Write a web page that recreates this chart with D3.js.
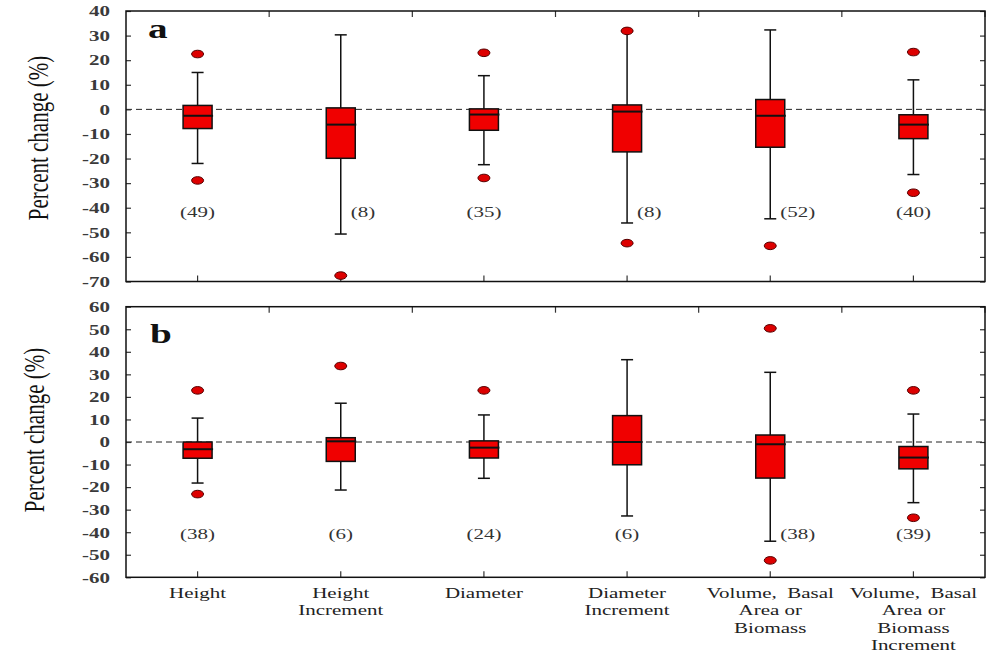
<!DOCTYPE html>
<html>
<head>
<meta charset="utf-8">
<script src="https://cdn.jsdelivr.net/npm/d3@7"></script>
<style>
  html, body { margin: 0; padding: 0; background: #fff; }
  svg { display: block; }
  text { font-family: "Liberation Serif", "Times New Roman", serif; }
</style>
</head>
<body>
<svg id="chart" width="1001" height="656"></svg>
<script>
// Growth response categories (x axis)
const categories = ["Height", "Height Increment", "Diameter", "Diameter Increment",
  "Volume, Basal Area or Biomass", "Volume, Basal Area or Biomass Increment"];
const categoryLines = [["Height"], ["Height", "Increment"], ["Diameter"], ["Diameter", "Increment"],
  ["Volume,  Basal", "Area or", "Biomass"], ["Volume,  Basal", "Area or", "Biomass", "Increment"]];

// Panel a: percent change summaries
const aWhiskerLow  = [-22, -50.7, -22.5, -46.2, -44.5, -26.5];
const aQ1          = [-7.8, -19.9, -8.5, -17.3, -15.4, -11.9];
const aMedian      = [-2.6, -6.2, -2.1, -0.9, -2.6, -6.2];
const aQ3          = [1.6, 0.6, 0.2, 1.8, 4.0, -2.2];
const aWhiskerHigh = [15, 30.3, 13.7, 31.9, 32.3, 12];
const aOutLow      = [-28.9, -67.6, -27.9, -54.4, -55.5, -33.9];
const aOutHigh     = [22.5, null, 23, 31.9, null, 23.3];
const aCounts      = [49, 8, 35, 8, 52, 40];
const aCountBeside = [false, true, false, true, true, false];
const aTicks       = [40, 30, 20, 10, 0, -10, -20, -30, -40, -50, -60, -70];

// Panel b: percent change summaries
const bWhiskerLow  = [-18.2, -21.3, -16.1, -32.8, -44, -26.9];
const bQ1          = [-7.2, -8.6, -7.1, -10.1, -16, -11.9];
const bMedian      = [-3.2, 0.3, -2.5, 0, -1.0, -6.9];
const bQ3          = [0, 1.9, 0.5, 11.7, 3.1, -2.0];
const bWhiskerHigh = [10.6, 17.2, 12, 36.5, 30.9, 12.4];
const bOutLow      = [-23.1, null, null, null, -52.5, -33.6];
const bOutHigh     = [22.9, 33.7, 22.9, null, 50.4, 22.9];
const bCounts      = [38, 6, 24, 6, 38, 39];
const bCountBeside = [false, false, false, false, true, false];
const bTicks       = [60, 50, 40, 30, 20, 10, 0, -10, -20, -30, -40, -50, -60];

const SX = 1.4; // horizontal text stretch used throughout the figure

const svg = d3.select("#chart");
const left = 126, right = 985;

const x = d3.scaleBand().domain(categories).range([left, right]).padding(0);

function build(rows) {
  return categories.map((c, i) => ({
    cat: c, lo: rows.wl[i], q1: rows.q1[i], med: rows.md[i], q3: rows.q3[i], hi: rows.wh[i],
    outLo: rows.ol[i], outHi: rows.oh[i], n: rows.n[i], beside: rows.bs[i]
  }));
}

const panels = [
  { letter: "a", top: 11, bottom: 281.5, domain: [-70, 40], ticks: aTicks, countAt: -41.5,
    titleX: 39, titleY: 138, letterX: 148, letterY: 38,
    rows: build({ wl: aWhiskerLow, q1: aQ1, md: aMedian, q3: aQ3, wh: aWhiskerHigh, ol: aOutLow, oh: aOutHigh, n: aCounts, bs: aCountBeside }) },
  { letter: "b", top: 306.7, bottom: 577.3, domain: [-60, 60], ticks: bTicks, countAt: -40.5,
    titleX: 35, titleY: 430, letterX: 150, letterY: 343,
    rows: build({ wl: bWhiskerLow, q1: bQ1, md: bMedian, q3: bQ3, wh: bWhiskerHigh, ol: bOutLow, oh: bOutHigh, n: bCounts, bs: bCountBeside }) }
];

const boxW = 29, capW = 12;

panels.forEach(p => {
  const y = d3.scaleLinear().domain(p.domain).range([p.bottom, p.top]);
  const g = svg.append("g");

  // zero reference line
  g.append("line")
    .attr("x1", left).attr("x2", right)
    .attr("y1", y(0)).attr("y2", y(0))
    .attr("stroke", "#222").attr("stroke-width", 1)
    .attr("stroke-dasharray", "6,4");

  // axes: inward ticks on all four sides
  const yl = g.append("g").attr("transform", `translate(${left},0)`)
    .call(d3.axisLeft(y).tickValues(p.ticks).tickSizeInner(-5).tickSizeOuter(0).tickPadding(16)
      .tickFormat(d => String(d)));
  yl.selectAll("text")
    .attr("x", -16 / SX)
    .attr("transform", `scale(${SX},1)`)
    .attr("fill", "#3a3a3a").attr("font-size", 15).attr("font-weight", "bold")
    .style("font-family", '"Liberation Serif", serif');

  g.append("g").attr("transform", `translate(${right},0)`)
    .call(d3.axisRight(y).tickValues(p.ticks).tickSizeInner(-5).tickSizeOuter(0).tickFormat(""));
  g.append("g").attr("transform", `translate(0,${p.top})`)
    .call(d3.axisTop(x).tickSizeInner(-6).tickSizeOuter(0).tickFormat(""))
    .selectAll(".tick line").attr("transform", `translate(${x.bandwidth() / 2},0)`);
  g.append("g").attr("transform", `translate(0,${p.bottom})`)
    .call(d3.axisBottom(x).tickSizeInner(-6).tickSizeOuter(0).tickFormat(""));
  g.selectAll(".domain").remove();
  g.selectAll(".tick line").attr("stroke", "#333").attr("stroke-width", 1.2);

  // frame
  g.append("rect")
    .attr("x", left).attr("y", p.top)
    .attr("width", right - left).attr("height", p.bottom - p.top)
    .attr("fill", "none").attr("stroke", "#111").attr("stroke-width", 1.5);

  const cx = d => x(d.cat) + x.bandwidth() / 2;

  const box = g.selectAll(".box").data(p.rows).join("g").attr("class", "box");

  // whiskers
  box.append("line")
    .attr("x1", cx).attr("x2", cx)
    .attr("y1", d => y(d.lo)).attr("y2", d => y(d.hi))
    .attr("stroke", "#111").attr("stroke-width", 1.5);
  box.append("line")
    .attr("x1", d => cx(d) - capW / 2).attr("x2", d => cx(d) + capW / 2)
    .attr("y1", d => y(d.lo)).attr("y2", d => y(d.lo))
    .attr("stroke", "#111").attr("stroke-width", 1.5);
  box.append("line")
    .attr("x1", d => cx(d) - capW / 2).attr("x2", d => cx(d) + capW / 2)
    .attr("y1", d => y(d.hi)).attr("y2", d => y(d.hi))
    .attr("stroke", "#111").attr("stroke-width", 1.5);

  // interquartile box
  box.append("rect")
    .attr("x", d => cx(d) - boxW / 2).attr("width", boxW)
    .attr("y", d => y(d.q3)).attr("height", d => y(d.q1) - y(d.q3))
    .attr("fill", "#f00000").attr("stroke", "#111").attr("stroke-width", 1.5);

  // median
  box.append("line")
    .attr("x1", d => cx(d) - boxW / 2).attr("x2", d => cx(d) + boxW / 2 + 1)
    .attr("y1", d => y(d.med)).attr("y2", d => y(d.med))
    .attr("stroke", "#111").attr("stroke-width", 2);

  // outliers
  const outs = [];
  p.rows.forEach(d => {
    if (d.outLo !== null) outs.push({ cat: d.cat, v: d.outLo });
    if (d.outHi !== null) outs.push({ cat: d.cat, v: d.outHi });
  });
  g.selectAll(".out").data(outs).join("ellipse").attr("class", "out")
    .attr("cx", cx).attr("cy", d => y(d.v))
    .attr("rx", 6).attr("ry", 3.8)
    .attr("fill", "#dd0000").attr("stroke", "#500").attr("stroke-width", 1);

  // sample sizes
  g.selectAll(".count").data(p.rows).join("text").attr("class", "count")
    .attr("transform", d => `translate(${d.beside ? cx(d) + 10 : cx(d)},${y(p.countAt)}) scale(${SX},1)`)
    .attr("dy", "0.35em")
    .attr("text-anchor", d => d.beside ? "start" : "middle")
    .attr("font-size", 15).attr("fill", "#333")
    .text(d => `(${d.n})`);

  // panel letter
  g.append("text")
    .attr("transform", `translate(${p.letterX},${p.letterY}) scale(${SX},1)`)
    .attr("font-size", 28).attr("font-weight", "bold").attr("fill", "#111")
    .text(p.letter);

  // y title
  g.append("text")
    .attr("transform", `translate(${p.titleX},${p.titleY}) scale(${SX},1) rotate(-90)`)
    .attr("text-anchor", "middle").attr("dy", "0.32em")
    .attr("font-size", 21).attr("fill", "#111")
    .text("Percent change (%)");
});

// category labels under the lower panel
const xl = svg.append("g").selectAll("g").data(categories).join("g")
  .attr("transform", c => `translate(${x(c) + x.bandwidth() / 2},598) scale(${SX},1)`);
xl.each(function (c, i) {
  d3.select(this).selectAll("text").data(categoryLines[i]).join("text")
    .attr("y", (t, j) => j * 17.5)
    .attr("text-anchor", "middle")
    .attr("font-size", 15).attr("fill", "#222")
    .style("white-space", "pre")
    .text(t => t);
});
</script>
</body>
</html>
